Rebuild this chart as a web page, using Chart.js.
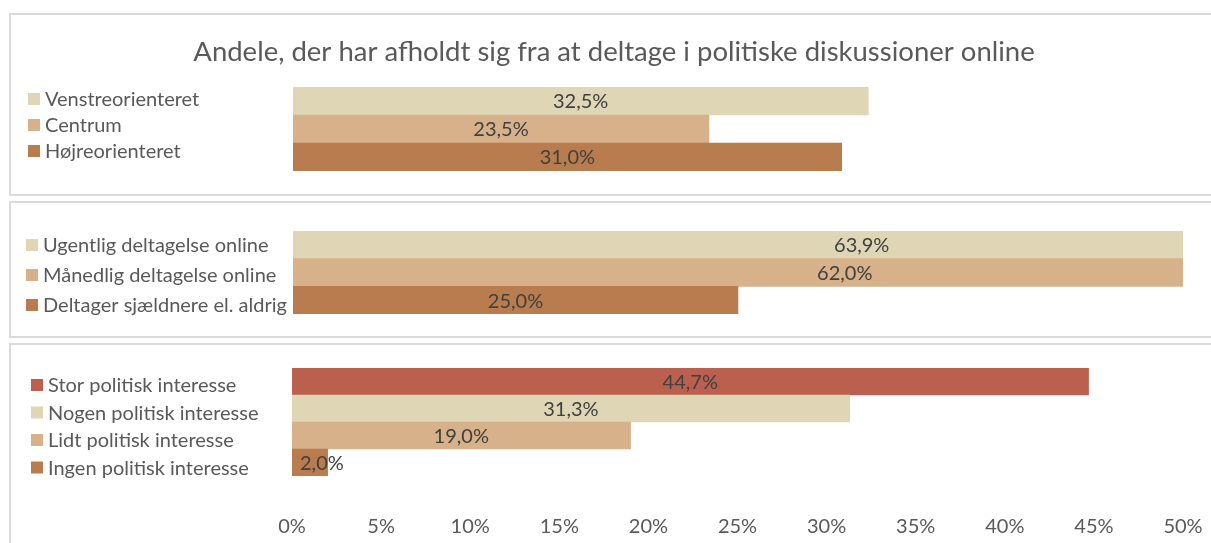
<!DOCTYPE html>
<html lang="da">
<head>
  <meta charset="UTF-8" />
  <title>Andele, der har afholdt sig fra at deltage i politiske diskussioner online</title>
  <script src="https://cdn.jsdelivr.net/npm/chart.js"></script>
  <style>
    html, body { margin: 0; padding: 0; background: #fff; }
    #page { position: relative; width: 1211px; height: 543px; overflow: hidden; }
    .panel { position: absolute; left: 9px; width: 1260px; border: 2px solid #dadada; box-sizing: border-box; }
    .layer { position: absolute; left: 0; top: 0; width: 1211px; height: 543px; }
  </style>
</head>
<body>
  <div id="page">
    <!-- panel frames -->
    <div class="panel" style="top:13px;height:183px"></div>
    <div class="panel" style="top:201px;height:137px"></div>
    <div class="panel" style="top:343px;height:240px"></div>
    <!-- one transparent full-size layer per panel -->
    <div class="layer"><canvas id="politicalChart"></canvas></div>
    <div class="layer"><canvas id="onlineChart"></canvas></div>
    <div class="layer"><canvas id="interestChart"></canvas></div>
  </div>

  <script>
    const chartTitle = 'Andele, der har afholdt sig fra at deltage i politiske diskussioner online';

    const politicalLabels = ['Venstreorienteret', 'Centrum', 'Højreorienteret'];
    const politicalValues = [32.5, 23.5, 31.0];

    const onlineLabels = ['Ugentlig deltagelse online', 'Månedlig deltagelse online', 'Deltager sjældnere el. aldrig'];
    const onlineValues = [63.9, 62.0, 25.0];

    const interestLabels = ['Stor politisk interesse', 'Nogen politisk interesse', 'Lidt politisk interesse', 'Ingen politisk interesse'];
    const interestValues = [44.7, 31.3, 19.0, 2.0];

    const axisTicks = [0, 5, 10, 15, 20, 25, 30, 35, 40, 45, 50];

    const BEIGE = '#dfd6b6';
    const TAN = '#d6b18a';
    const BROWN = '#b97c4e';
    const RED = '#bb604e';

    const FONT = 'Lato, "Open Sans", sans-serif';
    const fmt = v => v.toFixed(1).replace('.', ',') + '%';

    // square + text entries on the left of each panel
    const sideLegend = {
      id: 'sideLegend',
      afterDraw(chart, args, opts) {
        const ctx = chart.ctx;
        const ds = chart.data.datasets[0];
        ctx.save();
        ctx.font = '20px ' + FONT;
        ctx.textBaseline = 'middle';
        chart.data.labels.forEach((lab, i) => {
          const y = opts.y0 + i * opts.step;
          ctx.fillStyle = ds.backgroundColor[i];
          ctx.fillRect(opts.x, y - 6, 12, 12);
          ctx.fillStyle = '#595959';
          ctx.fillText(lab, opts.x + 17, y + 1);
        });
        ctx.restore();
      }
    };

    // value labels in the middle of the (unclipped) bar
    const barValues = {
      id: 'barValues',
      afterDatasetsDraw(chart) {
        const ctx = chart.ctx;
        const x = chart.scales.x;
        const meta = chart.getDatasetMeta(0);
        ctx.save();
        ctx.font = '20px ' + FONT;
        ctx.fillStyle = '#404040';
        ctx.textAlign = 'center';
        ctx.textBaseline = 'middle';
        meta.data.forEach((bar, i) => {
          const v = chart.data.datasets[0].data[i];
          const txt = fmt(v);
          const w = ctx.measureText(txt).width;
          const x0 = x.getPixelForValue(0);
          let cx = (x0 + x.getPixelForValue(v)) / 2;
          cx = Math.max(cx, x0 + 8 + w / 2);
          ctx.fillText(txt, cx, bar.y + 1);
        });
        ctx.restore();
      }
    };

    const titlePlugin = {
      id: 'panelTitle',
      afterDraw(chart, args, opts) {
        if (!opts.text) return;
        const ctx = chart.ctx;
        ctx.save();
        ctx.font = '27.5px ' + FONT;
        ctx.fillStyle = '#595959';
        ctx.textAlign = 'center';
        ctx.textBaseline = 'middle';
        ctx.fillText(opts.text, opts.x, opts.y);
        ctx.restore();
      }
    };

    function makePanel(id, labels, values, colors, pad, legend, showAxis, title) {
      return new Chart(document.getElementById(id), {
        type: 'bar',
        data: {
          labels: labels,
          datasets: [{
            data: values,
            backgroundColor: colors,
            barPercentage: 1,
            categoryPercentage: 1
          }]
        },
        options: {
          indexAxis: 'y',
          responsive: true,
          maintainAspectRatio: false,
          animation: false,
          layout: { padding: pad },
          scales: {
            x: {
              min: 0,
              max: 50,
              display: showAxis,
              afterBuildTicks: axis => { axis.ticks = axisTicks.map(v => ({ value: v })); },
              afterFit: axis => {
                if (!showAxis) return;
                axis.height = 63;
                axis.paddingLeft = 0;
                axis.paddingRight = 0;
              },
              grid: { display: false, drawTicks: false },
              border: { display: false },
              ticks: {
                padding: 39,
                maxRotation: 0,
                minRotation: 0,
                autoSkip: false,
                color: '#595959',
                font: { family: FONT, size: 20 },
                callback: v => v + '%'
              }
            },
            y: { display: false }
          },
          plugins: {
            legend: { display: false },
            tooltip: { enabled: false },
            sideLegend: legend,
            panelTitle: title || {}
          }
        },
        plugins: [sideLegend, barValues, titlePlugin]
      });
    }

    makePanel('politicalChart', politicalLabels, politicalValues, [BEIGE, TAN, BROWN],
      { left: 293, right: 33, top: 87, bottom: 372 },
      { x: 28, y0: 99, step: 26 }, false,
      { text: chartTitle, x: 614, y: 52 });

    makePanel('onlineChart', onlineLabels, onlineValues, [BEIGE, TAN, BROWN],
      { left: 293, right: 28, top: 231, bottom: 229 },
      { x: 26, y0: 245, step: 30 }, false);

    makePanel('interestChart', interestLabels, interestValues, [RED, BEIGE, TAN, BROWN],
      { left: 292, right: 28, top: 368, bottom: 4 },
      { x: 31, y0: 385, step: 27.5 }, true);
  </script>
</body>
</html>
